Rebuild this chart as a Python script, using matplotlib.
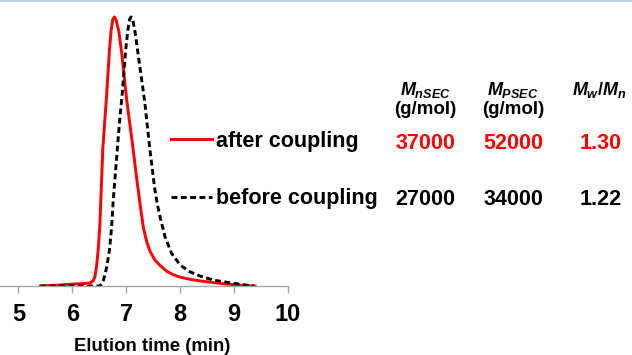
import matplotlib
matplotlib.use('Agg')
from matplotlib import pyplot as plt
from matplotlib.lines import Line2D

plt.rcParams['font.family'] = ['Liberation Sans', 'DejaVu Sans']
plt.rcParams['font.weight'] = 'bold'
plt.rcParams['mathtext.fontset'] = 'custom'
plt.rcParams['mathtext.rm'] = 'Liberation Sans:bold'
plt.rcParams['mathtext.it'] = 'Liberation Sans:bold:italic'

# SEC traces (time in min, normalised intensity)
t_after = [5.41, 5.8, 6.0, 6.2, 6.33, 6.39, 6.42, 6.45, 6.48, 6.51, 6.53, 6.565, 6.63,
           6.69, 6.72, 6.75, 6.78, 6.81, 6.86, 6.91, 7.01, 7.13, 7.20, 7.26, 7.32,
           7.38, 7.44, 7.53, 7.63, 7.75, 7.87, 8.0, 8.18, 8.37, 8.6, 8.86, 9.1, 9.39]
i_after = [0.0, 0.004, 0.007, 0.009, 0.011, 0.02, 0.035, 0.072, 0.134, 0.22, 0.32, 0.506, 0.69,
           0.877, 0.95, 0.99, 1.0, 0.99, 0.95, 0.877, 0.69, 0.506, 0.39, 0.30, 0.215,
           0.165, 0.13, 0.097, 0.076, 0.055, 0.042, 0.033, 0.025, 0.019, 0.013, 0.007, 0.003, 0.0]

t_before = [5.41, 6.0, 6.51, 6.55, 6.58, 6.64, 6.69, 6.73, 6.76, 6.80, 6.84, 6.88,
            6.92, 6.99, 7.03, 7.06, 7.09, 7.12, 7.16, 7.21, 7.34, 7.44, 7.53, 7.58,
            7.63, 7.72, 7.84, 8.0, 8.18, 8.37, 8.61, 8.99, 9.2, 9.37]
i_before = [0.0, 0.0, 0.0, 0.008, 0.022, 0.072, 0.134, 0.22, 0.32, 0.42, 0.52, 0.62,
            0.70, 0.877, 0.95, 0.99, 1.0, 0.99, 0.95, 0.877, 0.69, 0.506, 0.36, 0.30,
            0.255, 0.183, 0.122, 0.078, 0.053, 0.037, 0.022, 0.01, 0.004, 0.0]

samples = ['after coupling', 'before coupling']
mn_sec = ['37000', '27000']
mp_sec = ['52000', '34000']
pdi = ['1.30', '1.22']
row_colors = ['#ff0000', '#000000']
xticks = [5, 6, 7, 8, 9, 10]

fig = plt.figure(figsize=(6.32, 3.55), dpi=100)
ax = fig.add_axes([0.0, 69/355, 288/632, 286/355])

l1, = ax.plot(t_after, i_after, color='#ff0000', lw=2.1)
l2, = ax.plot(t_before, i_before, color='#000000', lw=2.1, dashes=(2.0, 1.2))

ax.set_xlim(4.66, 10.0)
ax.set_ylim(0, 1.063)
for s in ['top', 'right', 'left']:
    ax.spines[s].set_visible(False)
ax.spines['bottom'].set_color('#a6a6a6')
ax.spines['bottom'].set_linewidth(1.0)
ax.set_yticks([])
ax.set_xticks(xticks)
ax.set_xticklabels([str(x) for x in xticks], fontweight='bold')
ax.tick_params(axis='x', direction='out', length=5, width=1, color='#a6a6a6',
               labelsize=17, pad=7)
ax.set_xlabel('Elution time (min)', fontsize=13.4, fontweight='bold')
ax.xaxis.set_label_coords(0.528, -0.183)

# legend beside the table rows
fig.legend([l1, l2], samples, loc='upper left', bbox_to_anchor=(171/632, 1 - 131/355),
           frameon=False, fontsize=15.5, borderpad=0, borderaxespad=0,
           handlelength=1.9, handletextpad=0.2, labelspacing=1.69)

# table of molar masses
col_x = [425/632, 513/632]
fig.text(col_x[0], 1 - 95/355, r'$M_{nSEC}$', ha='center', va='baseline', fontsize=13)
fig.text(col_x[0], 1 - 113.5/355, '(g/mol)', ha='center', va='baseline', fontsize=13.5)
fig.text(col_x[1], 1 - 95/355, r'$M_{PSEC}$', ha='center', va='baseline', fontsize=13)
fig.text(col_x[1], 1 - 113.5/355, '(g/mol)', ha='center', va='baseline', fontsize=13.5)
fig.text(572/632, 1 - 95/355, r'$M_w/M_n$', ha='left', va='baseline', fontsize=13)

row_y = [1 - 149.3/355, 1 - 205/355]
for k in range(len(samples)):
    fig.text(col_x[0], row_y[k], mn_sec[k], ha='center', va='baseline',
             fontsize=15.5, color=row_colors[k])
    fig.text(col_x[1], row_y[k], mp_sec[k], ha='center', va='baseline',
             fontsize=15.5, color=row_colors[k])
    fig.text(622/632, row_y[k], pdi[k], ha='right', va='baseline',
             fontsize=15.5, color=row_colors[k])

# thin blue frame line at the top
fig.add_artist(Line2D([0, 1], [0.997, 0.997], transform=fig.transFigure,
                      color='#b8d0e8', lw=1.5))

fig.savefig('out.png', dpi=100)
